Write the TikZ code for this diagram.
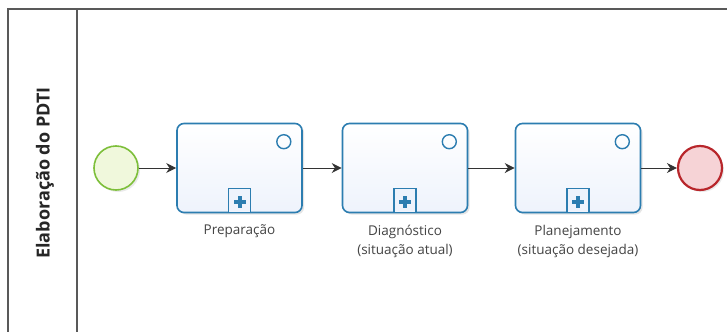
\documentclass[tikz,border=0pt]{standalone}
\usepackage{fontspec}
\setmainfont{Open Sans}
\usetikzlibrary{arrows.meta,shadows}
\definecolor{taskblue}{HTML}{2C7DB0}
\definecolor{taskfill}{HTML}{EEF3FC}
\definecolor{startgreen}{HTML}{7DBF3A}
\definecolor{startfill}{HTML}{F0F8DC}
\definecolor{endred}{HTML}{B8262B}
\definecolor{endfill}{HTML}{F6D3D6}
\definecolor{lbl}{HTML}{444444}
\tikzset{
  taskbox/.style={draw=taskblue, line width=1.6pt, top color=white, bottom color=taskfill, rounded corners=7pt,
    minimum width=125pt, minimum height=89pt, inner sep=0pt,
    drop shadow={shadow xshift=2pt, shadow yshift=-2pt, opacity=0.25, fill=black!40}},
  startev/.style={circle, draw=startgreen, line width=1.6pt, fill=startfill, minimum size=44pt, inner sep=0pt,
    drop shadow={shadow xshift=2pt, shadow yshift=-2pt, opacity=0.2, fill=black!40}},
  endev/.style={circle, draw=endred, line width=2.2pt, fill=endfill, minimum size=44pt, inner sep=0pt,
    drop shadow={shadow xshift=2pt, shadow yshift=-2pt, opacity=0.2, fill=black!40}},
  flow/.style={draw=black!80, line width=0.9pt, -{Stealth[length=10pt,width=10pt]}},
  tasklabel/.style={font=\fontsize{13.5}{19}\selectfont, text=lbl, align=center},
  smallcirc/.style={circle, draw=taskblue, line width=1.4pt, minimum size=14pt, inner sep=0pt},
  plusbox/.style={draw=taskblue, line width=1.4pt, fill=taskfill, minimum width=22pt, minimum height=24pt, inner sep=0pt, anchor=south},
}
\begin{document}
\begin{tikzpicture}[x=1pt,y=-1pt]
\useasboundingbox (0,0) rectangle (727,332);
\fill[white] (0,0) rectangle (727,332);
% pool
\draw[black!65, line width=1.4pt] (727,9) -- (8,9) -- (8,332);
\draw[black!65, line width=1.2pt] (77,9) -- (77,332);
\node[rotate=90, font=\bfseries\fontsize{18}{20}\selectfont, text=black!85] (lane) at (45,173) {Elaboração do PDTI};
% events
\node[startev] (start) at (116,168) {};
\node[endev] (end) at (700,168) {};
% tasks
\node[taskbox] (t1) at (239.5,168) {};
\node[taskbox] (t2) at (405,168) {};
\node[taskbox] (t3) at (578,168) {};
\foreach \t in {t1,t2,t3}{
  \node[smallcirc] (\t c) at ([xshift=-19pt,yshift=-19pt]\t.north east) {};
  \node[plusbox] (\t p) at (\t.south) {};
  \fill[taskblue] ([yshift=-1pt]\t p.center) ++(-6,-2) rectangle ++(12,4);
  \fill[taskblue] ([yshift=-1pt]\t p.center) ++(-2,-6) rectangle ++(4,12);
}
% labels
\node[tasklabel, anchor=north] (l1) at ([yshift=-8pt]t1.south) {Preparação};
\node[tasklabel, anchor=north] (l2) at ([yshift=-8pt]t2.south) {Diagnóstico\\(situação atual)};
\node[tasklabel, anchor=north] (l3) at ([yshift=-8pt]t3.south) {Planejamento\\(situação desejada)};
% flows
\draw[flow] (start) -- (t1);
\draw[flow] (t1) -- (t2);
\draw[flow] (t2) -- (t3);
\draw[flow] (t3) -- (end);
\end{tikzpicture}
\end{document}
